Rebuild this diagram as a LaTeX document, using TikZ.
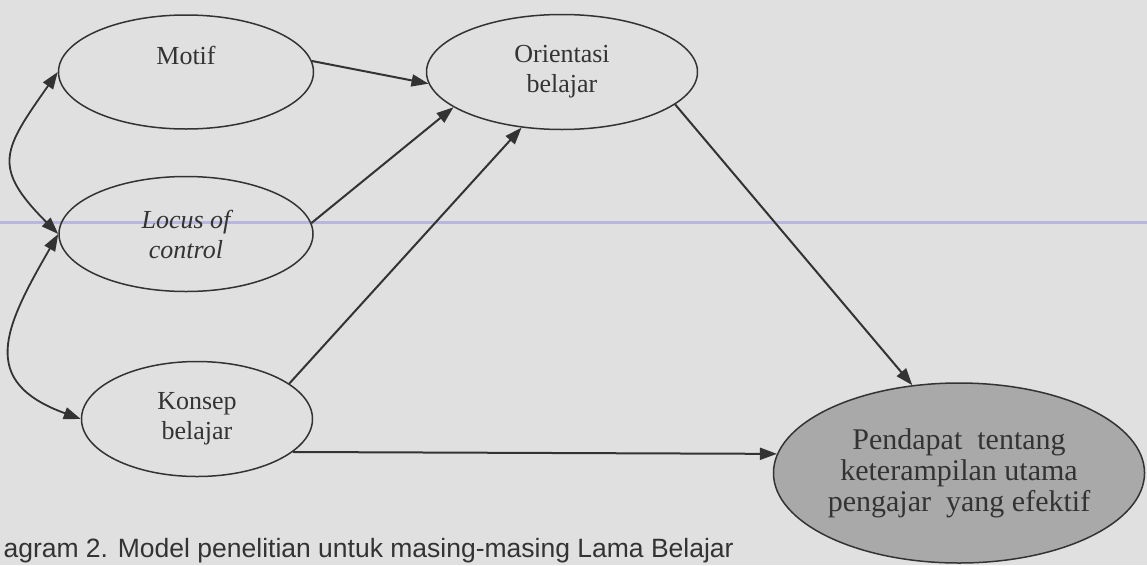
\documentclass[tikz,border=0pt]{standalone}
\usepackage{fontspec}
\setmainfont{Liberation Serif}
\newfontfamily\capfont{Liberation Sans}
\usetikzlibrary{arrows.meta,shapes.geometric}
\definecolor{Paper}{HTML}{E0E0E0}
\definecolor{Ink}{HTML}{333333}
\definecolor{Shade}{HTML}{A9A9A9}
\definecolor{Rule}{HTML}{B8B6DC}

\begin{document}
\begin{tikzpicture}[x=1pt,y=1pt,
  every node/.style={font=\fontsize{26}{30}\selectfont,text=Ink,align=center},
  var/.style={ellipse,draw=Ink,line width=1.5pt,inner sep=0pt},
  arr/.style={draw=Ink,line width=2pt,-{Triangle[length=17pt,width=12pt]}},
  dbl/.style={draw=Ink,line width=1.8pt,{Triangle[length=17pt,width=12pt]}-{Triangle[length=17pt,width=12pt]}}]
  \fill[Paper] (0,0) rectangle (1147,-565);
  \useasboundingbox (0,0) rectangle (1147,-565);
  \draw[Rule,line width=3pt] (0,-222) -- (1147,-222);
  % variables
  \node[var,minimum width=255pt,minimum height=114pt] (motif) at (186,-72) {};
  \node (motiftext) at (186,-55) {Motif};
  \node[var,minimum width=254pt,minimum height=115pt] (locus) at (186,-234) {\itshape Locus of\\\itshape control};
  \node[var,minimum width=231pt,minimum height=115pt] (konsep) at (197,-419) {Konsep\\belajar};
  \node[var,minimum width=271pt,minimum height=115pt] (orientasi) at (562,-72) {Orientasi\\belajar};
  \node[var,fill=Shade,minimum width=368pt,minimum height=180pt,font=\fontsize{30}{31}\selectfont] (pendapat) at (959,-473)
    {Pendapat~ tentang\\keterampilan utama\\pengajar~ yang efektif};
  % paths
  \foreach \src/\a/\b in {motif/5/185,locus/5/198,konsep/21/234}
    \draw[arr] (\src.\a) -- (orientasi.\b);
  \draw[arr] (orientasi.344) -- (pendapat.118);
  \draw[arr] (konsep.341) -- (pendapat.174);
  \draw[dbl] (motif.west) to[out=235,in=135,looseness=1.5] (locus.west);
  \draw[dbl] (locus.west) to[out=240,in=160,looseness=1.5] (konsep.west);
  \node[anchor=base west,font=\capfont\fontsize{26.5}{30}\selectfont] (caption) at (0,-557)
    {agram 2. Model penelitian untuk masing-masing Lama Belajar};
\end{tikzpicture}
\end{document}
